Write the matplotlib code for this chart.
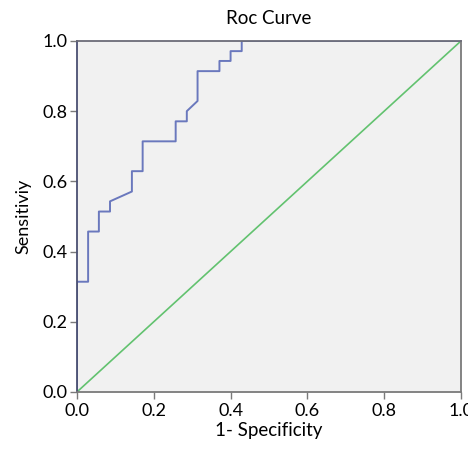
import matplotlib
matplotlib.use("Agg")
import matplotlib.pyplot as plt

plt.rcParams['font.family'] = ['Lato', 'DejaVu Sans']

# ROC curve points (steps of about 1/35)
fpr = [0, 0, 0.029, 0.029, 0.057, 0.057, 0.086, 0.086, 0.143, 0.143, 0.171, 0.171,
       0.257, 0.257, 0.286, 0.286, 0.314, 0.314, 0.371, 0.371, 0.4, 0.4, 0.429, 0.429, 1.0]
tpr = [0, 0.314, 0.314, 0.457, 0.457, 0.514, 0.514, 0.543, 0.571, 0.629, 0.629, 0.714,
       0.714, 0.771, 0.771, 0.8, 0.829, 0.914, 0.914, 0.943, 0.943, 0.971, 0.971, 1.0, 1.0]
ref_line = [0, 1]
ticks = [0.0, 0.2, 0.4, 0.6, 0.8, 1.0]
tick_labels = ['0.0', '0.2', '0.4', '0.6', '0.8', '1.0']

fig = plt.figure(figsize=(4.68, 4.5), dpi=100)
ax = fig.add_axes([0.1645, 0.129, 0.8205, 0.78])
ax.set_facecolor('#f1f1f1')

ax.plot(ref_line, ref_line, color='#62c26f', lw=1.2, zorder=2)
ax.plot(fpr, tpr, color='#6a78bd', lw=1.4, zorder=2.1)

ax.set_xlim(0, 1)
ax.set_ylim(0, 1)
ax.set_xticks(ticks)
ax.set_xticklabels(tick_labels)
ax.set_yticks(ticks)
ax.set_yticklabels(tick_labels)

for s in ax.spines.values():
    s.set_color('#7a7a7a')
    s.set_linewidth(1.3)
    s.set_zorder(3)
ax.spines['top'].set_color('#6c6c78')
ax.spines['left'].set_color('#4a4f72')

ax.tick_params(axis='both', direction='out', length=5, width=1, color='#7a7a7a',
               labelsize=13)
ax.tick_params(axis='x', pad=3)
ax.tick_params(axis='y', pad=2)

ax.set_title('Roc Curve', fontsize=13.5, pad=12)
ax.set_xlabel('1- Specificity', fontsize=13.5, labelpad=2)
ax.set_ylabel('Sensitiviy', fontsize=13, labelpad=8)

fig.savefig('out.png', dpi=100)
